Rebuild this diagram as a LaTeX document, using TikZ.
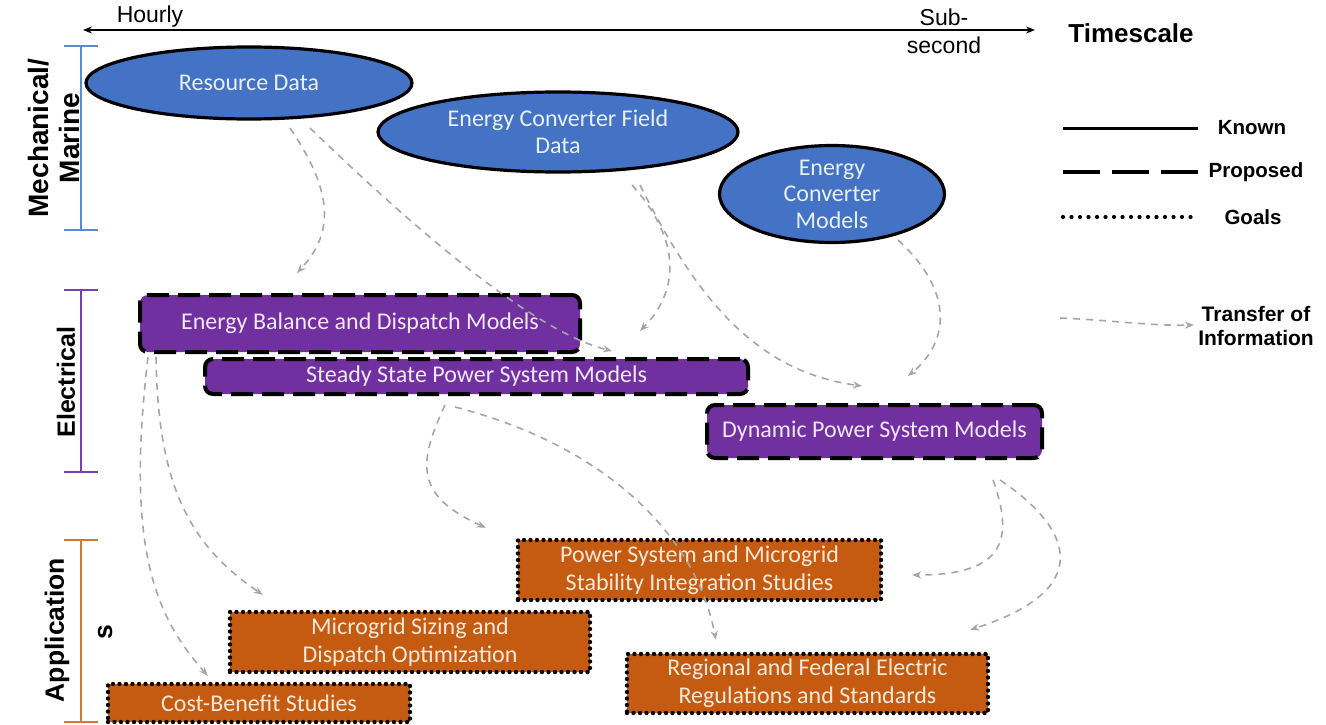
\documentclass[tikz,border=0pt]{standalone}
\usepackage{fontspec}
\setmainfont{Liberation Sans}
\newfontfamily\calib{Carlito}
\usetikzlibrary{shapes.geometric,arrows.meta,calc}
\definecolor{eblue}{HTML}{4472C4}
\definecolor{etext}{HTML}{E8F0FF}
\definecolor{epurple}{HTML}{7030A0}
\definecolor{ptext}{HTML}{F3E8FB}
\definecolor{eorange}{HTML}{C55A11}
\definecolor{otext}{HTML}{FCE9DA}
\definecolor{flowgray}{HTML}{A6A6A6}
\definecolor{brblue}{HTML}{5B8BD0}
\definecolor{brpurple}{HTML}{7A3FB0}
\definecolor{brorange}{HTML}{D07A3A}
\begin{document}
\begin{tikzpicture}[x=1pt,y=-1pt,
  ell/.style={ellipse,draw=black,line width=3.2pt,fill=eblue,inner sep=0pt,text=etext,
    font=\calib\fontsize{24}{26.5}\selectfont,align=center},
  pbox/.style={rectangle,rounded corners=8pt,draw=black,line width=4pt,
    dash pattern=on 22pt off 9pt,fill=epurple,text=ptext,inner sep=0pt,
    font=\calib\fontsize{24}{28}\selectfont,align=center},
  obox/.style={rectangle,draw=black,line width=4.4pt,dash pattern=on 0pt off 6.5pt,
    line cap=round,fill=eorange,text=otext,inner sep=0pt,
    font=\calib\fontsize{24}{28}\selectfont,align=center},
  flow/.style={draw=flowgray,line width=1.6pt,dash pattern=on 7pt off 6pt,
    -{Stealth[length=9pt,width=7pt]}},
  lbl/.style={font=\bfseries\fontsize{25}{31}\selectfont,align=center,rotate=90,inner sep=0pt},
  leg/.style={font=\bfseries\fontsize{20.5}{24}\selectfont,align=center,inner sep=0pt},
  bracket/.style={line width=2.2pt},
]
\useasboundingbox (0,0) rectangle (1326,725);

% timescale
\coordinate (tsL) at (83,30);
\coordinate (tsR) at (1035,30);
\draw[line width=1.6pt,{Stealth[length=9pt,width=7pt]}-{Stealth[length=9pt,width=7pt]}] (tsL) -- (tsR);
\node[font=\fontsize{23}{26}\selectfont,inner sep=0pt] (hourly) at (150,17) {Hourly};
\node[font=\fontsize{23}{28}\selectfont,align=center,inner sep=0pt] (subsec) at (944,31) {Sub-\\second};
\node[font=\bfseries\fontsize{26}{30}\selectfont,inner sep=0pt] (tscale) at (1131,33) {Timescale};

% brackets
\coordinate (b1t) at (81,46);  \coordinate (b1b) at (81,230);
\draw[bracket,brblue] (b1t) -- (b1b);
\draw[bracket,brblue] ($(b1t)+(-17,0)$) -- ($(b1t)+(17,0)$);
\draw[bracket,brblue] ($(b1b)+(-17,0)$) -- ($(b1b)+(17,0)$);
\coordinate (b2t) at (81,290); \coordinate (b2b) at (81,472);
\draw[bracket,brpurple] (b2t) -- (b2b);
\draw[bracket,brpurple] ($(b2t)+(-17,0)$) -- ($(b2t)+(17,0)$);
\draw[bracket,brpurple] ($(b2b)+(-17,0)$) -- ($(b2b)+(17,0)$);
\coordinate (b3t) at (81,540); \coordinate (b3b) at (81,722);
\draw[bracket,brorange] (b3t) -- (b3b);
\draw[bracket,brorange] ($(b3t)+(-17,0)$) -- ($(b3t)+(17,0)$);
\draw[bracket,brorange] ($(b3b)+(-17,0)$) -- ($(b3b)+(17,0)$);

\node[lbl,font=\bfseries\fontsize{28}{31}\selectfont] (mech) at (54,138) {Mechanical/\\Marine};
\node[lbl] (elec) at (66,382) {Electrical};
\node[lbl,font=\bfseries\fontsize{26.5}{31}\selectfont] (appl) at (57,630) {Application};
\node[lbl,font=\bfseries\fontsize{26.5}{31}\selectfont] (apps) at (105,632) {s};

% ellipses
\node[ell,minimum width=326pt,minimum height=72pt] (rd) at (249,83) {Resource Data};
\node[ell,minimum width=360pt,minimum height=80pt] (ecf) at (558,132) {Energy Converter Field\\Data};
\node[ell,minimum width=225pt,minimum height=84pt] (ecm) at (832,194) {Energy\\Converter\\Models};

% purple boxes
\node[pbox,minimum width=440pt,minimum height=57pt] (ebd) at (360,323.5) {Energy Balance and Dispatch Models};
\node[pbox,minimum width=543pt,minimum height=35pt] (ssp) at (476.5,376.5) {Steady State Power System Models};
\node[pbox,minimum width=335pt,minimum height=53pt] (dps) at (874.5,431.5) {Dynamic Power System Models};

% orange boxes
\node[obox,minimum width=363pt,minimum height=60pt] (psm) at (699.5,570) {Power System and Microgrid\\Stability Integration Studies};
\node[obox,minimum width=360pt,minimum height=60pt] (msd) at (410,642) {Microgrid Sizing and\\Dispatch Optimization};
\node[obox,minimum width=361pt,minimum height=59pt] (rfe) at (807.5,683.5) {Regional and Federal Electric\\Regulations and Standards};
\node[obox,minimum width=302pt,minimum height=38pt] (cbs) at (259,703) {Cost-Benefit Studies};

% flows
\draw[flow] ($(rd)+(41,45)$) .. controls ($(rd)+(85,110)$) and ($(rd)+(85,150)$) .. ($(ebd.north)+(-63,-20)$);
\draw[flow] ($(rd)+(61,45)$) .. controls ($(rd)+(180,160)$) and ($(rd)+(290,250)$) .. ($(ssp.north)+(135.5,-6)$);
\draw[flow] ($(ecf)+(74,53)$) .. controls ($(ecf)+(125,110)$) and ($(ecf)+(120,160)$) .. ($(ssp.north)+(163.5,-26)$);
\draw[flow] ($(ecf)+(82,53)$) .. controls ($(ecf)+(140,170)$) and ($(ecf)+(200,240)$) .. ($(dps.north)+(-12.5,-17)$);
\draw[flow] ($(ecm)+(66,46)$) .. controls ($(ecm)+(125,100)$) and ($(ecm)+(115,150)$) .. ($(dps.north)+(33.5,-27)$);
\draw[flow] ($(ebd.south west)+(10,3)$) .. controls ($(ebd.south west)+(-12,190)$) and ($(ebd.south west)+(15,260)$) .. ($(cbs.north west)+(102,-6)$);
\draw[flow] ($(ebd.south west)+(18,3)$) .. controls ($(ebd.south west)+(20,130)$) and ($(ebd.south west)+(50,190)$) .. ($(msd.north west)+(35,-15)$);
\draw[flow] ($(ssp.south)+(-31.5,9)$) .. controls ($(ssp.south)+(-60,70)$) and ($(ssp.south)+(-60,100)$) .. ($(psm.north west)+(-30,-10)$);
\draw[flow] ($(ssp.south)+(-21.5,11)$) .. controls ($(ssp.south)+(130,50)$) and ($(ssp.south)+(220,140)$) .. ($(rfe.north west)+(91,-12)$);
\draw[flow] ($(dps.south)+(118.5,20)$) .. controls ($(dps.south)+(140,80)$) and ($(dps.south)+(130,115)$) .. ($(psm.east)+(29,5)$);
\draw[flow] ($(dps.south)+(125.5,20)$) .. controls ($(dps.south)+(200,70)$) and ($(dps.south)+(220,130)$) .. ($(rfe.north east)+(-20,-22)$);

% legend
\coordinate (k1) at (1063,128); \coordinate (k2) at (1198,128);
\draw[line width=3pt] (k1) -- (k2);
\node[leg] (known) at (1252,128) {Known};
\coordinate (p1) at (1063,172); \coordinate (p2) at (1198,172);
\draw[line width=3.2pt,dash pattern=on 37pt off 12pt] (p1) -- (p2);
\node[leg] (prop) at (1256,172) {Proposed};
\coordinate (g1) at (1063,217); \coordinate (g2) at (1195,217);
\draw[line width=4.2pt,dash pattern=on 0pt off 8.5pt,line cap=round] (g1) -- (g2);
\node[leg] (goals) at (1253,217) {Goals};
\coordinate (t1) at (1060,318); \coordinate (t2) at (1194,325);
\draw[flow] (t1) .. controls (1110,320) and (1150,326) .. (t2);
\node[leg,font=\bfseries\fontsize{21}{24}\selectfont] (transfer) at (1256,326) {Transfer of\\Information};
\end{tikzpicture}
\end{document}
